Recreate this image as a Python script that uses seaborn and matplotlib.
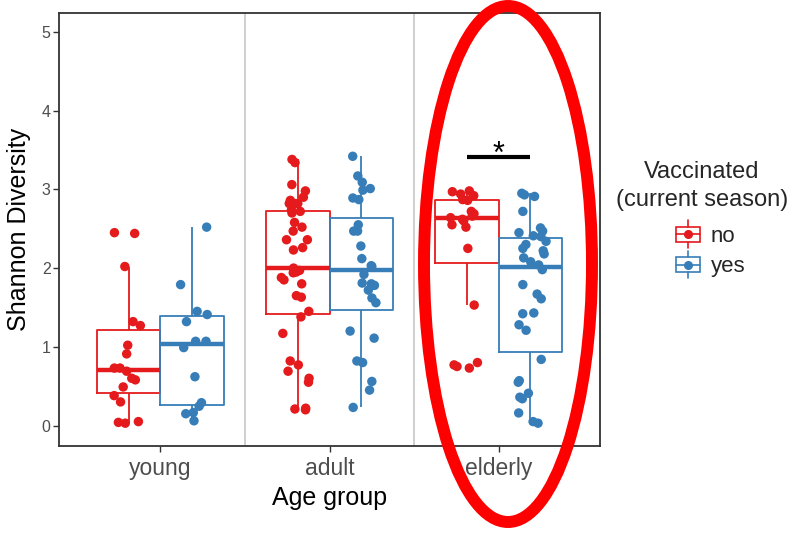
import numpy as np
import pandas as pd
import matplotlib
matplotlib.use("Agg")
import matplotlib.pyplot as plt
import seaborn as sns
from matplotlib.patches import Rectangle, Ellipse, Patch
from matplotlib.lines import Line2D
from matplotlib.legend_handler import HandlerBase

# ---------------- data ----------------
age_groups = ["young", "adult", "elderly"]
vacc_levels = ["no", "yes"]
colors = ["#E41A1C", "#377EB8"]

young_no = [2.45, 2.44, 2.02, 1.32, 1.27, 1.02, 0.91, 0.73, 0.73, 0.69, 0.60, 0.58,
            0.49, 0.38, 0.30, 0.05, 0.04, 0.03]
young_yes = [2.52, 1.79, 1.45, 1.41, 1.32, 1.07, 1.07, 0.99, 0.62, 0.29, 0.245, 0.165,
             0.15, 0.06]
adult_no = [3.38, 3.34, 3.06, 2.98, 2.90, 2.86, 2.82, 2.82, 2.82, 2.74, 2.72, 2.70,
            2.58, 2.52, 2.47, 2.36, 2.36, 2.26, 2.23, 2.00, 1.97, 1.95, 1.94, 1.88,
            1.85, 1.80, 1.65, 1.63, 1.45, 1.38, 1.17, 0.82, 0.77, 0.69, 0.60, 0.55,
            0.22, 0.21, 0.20]
adult_yes = [3.42, 3.17, 3.09, 3.01, 2.99, 2.89, 2.87, 2.55, 2.47, 2.47, 2.28, 2.12,
             2.03, 2.02, 1.92, 1.81, 1.80, 1.78, 1.72, 1.62, 1.56, 1.20, 1.11, 0.82,
             0.80, 0.56, 0.45, 0.23]
elderly_no = [2.98, 2.97, 2.94, 2.92, 2.87, 2.86, 2.72, 2.69, 2.66, 2.64, 2.62, 2.60,
              2.55, 2.52, 2.25, 1.53, 0.80, 0.77, 0.75, 0.73]
elderly_yes = [2.95, 2.93, 2.91, 2.72, 2.51, 2.47, 2.45, 2.41, 2.40, 2.34, 2.30, 2.25,
               2.22, 2.18, 2.13, 2.08, 2.04, 1.98, 1.79, 1.67, 1.61, 1.43, 1.42, 1.28,
               1.21, 0.84, 0.57, 0.55, 0.41, 0.36, 0.34, 0.16, 0.05, 0.03]

yticks = [0, 1, 2, 3, 4, 5]
sig_group = "elderly"
sig_y = 3.41
sig_label = "*"

series = {
    ("young", "no"): young_no, ("young", "yes"): young_yes,
    ("adult", "no"): adult_no, ("adult", "yes"): adult_yes,
    ("elderly", "no"): elderly_no, ("elderly", "yes"): elderly_yes,
}
rows = []
for (age, vac), vals in series.items():
    for v in vals:
        rows.append({"Age group": age, "Vaccinated": vac, "Shannon": v})
df = pd.DataFrame(rows)

# ---------------- plot ----------------
sns.set_style("white")
plt.rcParams["font.family"] = ["Liberation Sans", "DejaVu Sans"]
np.random.seed(7)

fig = plt.figure(figsize=(8.01, 5.37), dpi=100)
ax = fig.add_axes([59 / 801, 1 - 446 / 537, 541 / 801, 433 / 537])

box_width = 0.75
sns.boxplot(data=df, x="Age group", y="Shannon", hue="Vaccinated",
            order=age_groups, hue_order=vacc_levels, palette=colors,
            width=box_width, gap=0, fill=False, showfliers=False, showcaps=False,
            linewidth=1.3, medianprops={"linewidth": 3.2}, legend=False, ax=ax)
sns.stripplot(data=df, x="Age group", y="Shannon", hue="Vaccinated",
              order=age_groups, hue_order=vacc_levels, palette=colors,
              dodge=True, jitter=0.17, size=6.8, linewidth=0, legend=False,
              zorder=3, ax=ax)

for i in range(len(age_groups) - 1):
    ax.axvline(i + 0.5, color="#CCCCCC", lw=1.3, zorder=0)

ax.set_xlim(-0.6, len(age_groups) - 0.4)
ax.set_ylim(-0.26, 5.24)
ax.set_yticks(yticks)
ax.set_yticklabels([str(t) for t in yticks])

for s in ax.spines.values():
    s.set_color("#333333")
    s.set_linewidth(1.3)

ax.tick_params(axis="x", labelsize=16.5, labelcolor="#4D4D4D", length=4,
               color="#333333", width=1, bottom=True, pad=4)
ax.tick_params(axis="y", labelsize=11.5, labelcolor="#4D4D4D", length=4,
               color="#333333", width=1, left=True, pad=2)
ax.set_xlabel("Age group", fontsize=18, color="black", labelpad=4)
ax.set_ylabel("Shannon Diversity", fontsize=18, color="black", labelpad=8)

# significance bar
gi = age_groups.index(sig_group)
off = box_width / 4
ax.plot([gi - off, gi + off], [sig_y, sig_y], color="black", lw=3, solid_capstyle="butt")
ax.text(gi, sig_y - 0.07, sig_label, ha="center", va="baseline", fontsize=22,
        color="black")

# legend
class BoxKeyHandler(HandlerBase):
    def create_artists(self, legend, orig_handle, xdescent, ydescent, width,
                       height, fontsize, trans):
        c = orig_handle.get_edgecolor()
        x0, y0 = -xdescent, -ydescent
        bw = width * 0.9
        bx = x0 + (width - bw) / 2
        bh = height * 0.8
        by = y0 + (height - bh) / 2
        arts = [
            Rectangle((bx, by), bw, bh, fill=False, edgecolor=c, lw=1.2, transform=trans),
            Line2D([bx, bx + bw], [by + bh / 2] * 2, color=c, lw=1.2, transform=trans),
            Line2D([bx + bw / 2] * 2, [by - height * 0.35, by], color=c, lw=1.2, transform=trans),
            Line2D([bx + bw / 2] * 2, [by + bh, by + bh + height * 0.35], color=c, lw=1.2, transform=trans),
            Line2D([bx + bw / 2], [by + bh / 2], marker="o", markersize=5.5, color=c,
                   lw=0, transform=trans),
        ]
        return arts

handles = [Patch(edgecolor=c, facecolor="none") for c in colors]
fig.text(702 / 801, 1 - 186 / 537, "Vaccinated\n(current season)", ha="center",
         va="center", fontsize=17, linespacing=1.3)
fig.legend(handles, vacc_levels, handler_map={Patch: BoxKeyHandler()},
           loc="upper left", bbox_to_anchor=(675 / 801, 1 - 225 / 537),
           frameon=False, fontsize=16, handlelength=1.2, handleheight=0.9,
           handletextpad=0.4, labelspacing=0.38, borderpad=0, borderaxespad=0)

# red highlight ellipse
fig.add_artist(Ellipse((508 / 801, 1 - 264 / 537), 168 / 801, 516 / 537,
                       transform=fig.transFigure, fill=False, edgecolor="#FF0000",
                       lw=8.6, zorder=10))

fig.savefig("out.png", dpi=100)
